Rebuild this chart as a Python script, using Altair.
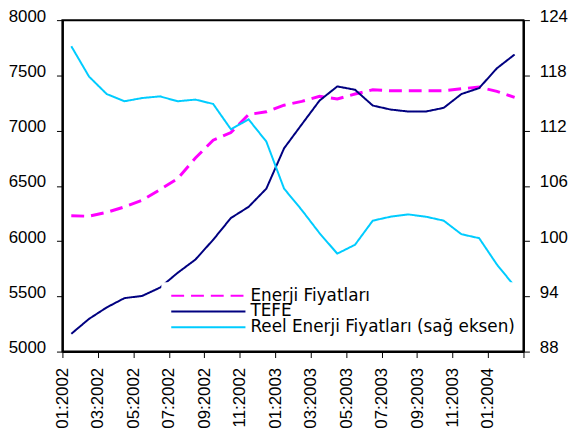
import altair as alt
import pandas as pd

months = ["01:2002", "02:2002", "03:2002", "04:2002", "05:2002", "06:2002",
          "07:2002", "08:2002", "09:2002", "10:2002", "11:2002", "12:2002",
          "01:2003", "02:2003", "03:2003", "04:2003", "05:2003", "06:2003",
          "07:2003", "08:2003", "09:2003", "10:2003", "11:2003", "12:2003",
          "01:2004", "02:2004"]

energy = [6229, 6225, 6260, 6310, 6370, 6466, 6565, 6752, 6913, 6982, 7146, 7170,
          7230, 7265, 7310, 7286, 7331, 7370, 7361, 7361, 7361, 7361, 7379, 7394,
          7355, 7301]

tefe = [5161, 5296, 5400, 5484, 5504, 5579, 5713, 5833, 6012, 6209, 6310, 6475,
        6840, 7057, 7272, 7400, 7370, 7227, 7191, 7173, 7173, 7206, 7331, 7385,
        7564, 7689]

reel = [121.17, 117.87, 115.97, 115.19, 115.54, 115.72, 115.19, 115.37, 114.9,
        112.15, 113.22, 110.81, 105.7, 103.37, 100.86, 98.64, 99.6, 102.22,
        102.65, 102.9, 102.65, 102.22, 100.75, 100.32, 97.46, 95.1]

series_names = ["Enerji Fiyatları", "TEFE", "Reel Enerji Fiyatları (sağ eksen)"]
series_colors = ["#ff00ff", "#000080", "#00ccff"]
series_dashes = [[13, 7], [1, 0], [1, 0]]

left_ticks = [5000, 5500, 6000, 6500, 7000, 7500, 8000]
right_ticks = [88, 94, 100, 106, 112, 118, 124]

n = len(months)
df = pd.DataFrame({
    "idx": list(range(n)) * 3,
    "month": months * 3,
    "series": [s for s in series_names for _ in months],
    "value": energy + tefe + reel,
})

x_vals = [i - 0.5 for i in range(0, n + 1, 2)]
label_js = "[" + ",".join("'" + m + "'" for m in months) + "]"
label_expr = "datum.value > " + str(n - 1) + " ? '' : " + label_js + "[round(datum.value + 0.5)]"

AX_FONT = "Liberation Sans"

base = alt.Chart(df).encode(
    x=alt.X("idx:Q",
            scale=alt.Scale(domain=[-0.5, n - 0.5], nice=False, zero=False),
            axis=alt.Axis(values=x_vals, labelExpr=label_expr, labelAngle=270,
                          title=None, labelPadding=10, labelFlush=False,
                          labelOverlap=False, labelBound=False)),
    color=alt.Color("series:N", title=None,
                    scale=alt.Scale(domain=series_names, range=series_colors)),
    strokeDash=alt.StrokeDash("series:N", title=None,
                              scale=alt.Scale(domain=series_names, range=series_dashes)),
)

y_left = alt.Y("value:Q", title=None,
               scale=alt.Scale(domain=[5000, 8000], nice=False, zero=False),
               axis=alt.Axis(values=left_ticks, orient="left", labelPadding=11,
                             labelOffset=-4, format="d"))

energy_layer = base.transform_filter(alt.datum.series == series_names[0]).mark_line(
    strokeWidth=3).encode(y=y_left)
tefe_layer = base.transform_filter(alt.datum.series == series_names[1]).mark_line(
    strokeWidth=2).encode(y=y_left)

reel_layer = base.transform_filter(alt.datum.series == series_names[2]).mark_line(
    strokeWidth=2).encode(
    y=alt.Y("value:Q", title=None,
            scale=alt.Scale(domain=[88, 124], nice=False, zero=False),
            axis=alt.Axis(values=right_ticks, orient="right", labelPadding=10,
                          labelOffset=-4, format="d"))
)

chart = alt.layer(alt.layer(energy_layer, tefe_layer), reel_layer).resolve_scale(
    y="independent"
).properties(
    width=466, height=335,
    autosize=alt.AutoSizeParams(type="none"),
    padding={"left": 55, "top": 10, "right": 45, "bottom": 79},
).configure_view(
    stroke="black", strokeWidth=2
).configure_axis(
    grid=False, domainColor="black", domainWidth=2, tickColor="black",
    tickWidth=1, tickSize=6, labelFont=AX_FONT, labelFontSize=17,
    labelColor="black", zindex=1
).configure_legend(
    orient="none", legendX=100, legendY=265, fillColor="white", padding=6,
    symbolOffset=3,
    symbolType="stroke", symbolSize=5625, symbolStrokeWidth=2,
    labelFont="DejaVu Sans", labelFontSize=17, labelColor="black",
    labelLimit=500, labelOffset=4, clipHeight=15, rowPadding=-2,
    strokeColor="white", strokeWidth=0
)

chart.save("out.html", embed_options={"renderer": "svg", "actions": False})
